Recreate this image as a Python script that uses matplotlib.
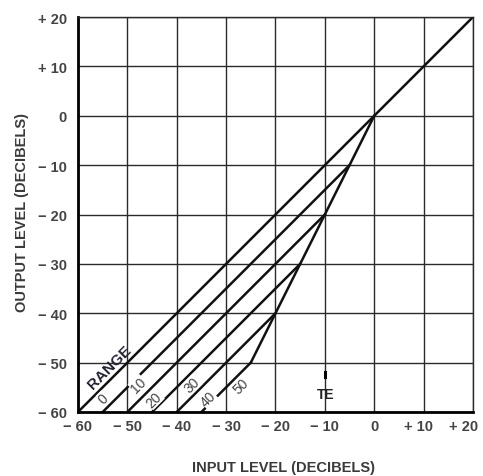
import matplotlib.pyplot as plt
from matplotlib.transforms import ScaledTranslation

# input/output levels in dB
unity_in = [-60, 20]
unity_out = [-60, 20]

# expansion range lines: start at the bottom edge, run at unity slope up to the knee
range_db = [10, 20, 30, 40, 50]
start_in = [-55, -50, -45, -40, -35]
start_out = [-60, -60, -60, -60, -60]
knee_in = [-5, -10, -15, -20, -25]
knee_out = [-10, -20, -30, -40, -50]

# threshold curve through the knees back to 0 dB
thresh_in = [0, -5, -10, -15, -20, -25]
thresh_out = [0, -10, -20, -30, -40, -50]

ticks = [-60, -50, -40, -30, -20, -10, 0, 10, 20]
tick_labels = ["\u2212 60", "\u2212 50", "\u2212 40", "\u2212 30", "\u2212 20",
               "\u2212 10", "0", "+ 10", "+ 20"]

# range labels (text, x, y)
range_labels = [("0", -54.8, -57.2), ("10", -47.8, -54.4), ("20", -44.6, -57.4),
                ("30", -36.9, -54.4), ("40", -33.6, -57.4), ("50", -27.0, -54.6)]

plt.rcParams['font.family'] = ['Liberation Sans', 'DejaVu Sans']

fig = plt.figure(figsize=(4.83, 4.77), dpi=100)
ax = fig.add_axes([78 / 483, 64 / 477, 395 / 483, 395 / 477])

ax.set_xlim(-60, 20)
ax.set_ylim(-60, 20)
ax.set_xticks(ticks)
ax.set_yticks(ticks)
ax.set_xticklabels(tick_labels)
ax.set_yticklabels(tick_labels)
ax.tick_params(length=0, labelsize=10.5, labelcolor="#444")
ax.tick_params(axis="x", pad=5)
ax.tick_params(axis="y", pad=8)
for lab in ax.get_xticklabels() + ax.get_yticklabels():
    lab.set_fontweight("bold")
# the right-hand x labels sit a little left of their grid lines
xl = ax.get_xticklabels()
for lab, dx in ((xl[-2], -5), (xl[-1], -9)):
    lab.set_transform(lab.get_transform() + ScaledTranslation(dx / 100, 0, fig.dpi_scale_trans))

ax.grid(True, color="#2a2a2a", linewidth=1.0)
ax.set_axisbelow(True)
for s in ax.spines.values():
    s.set_color("#2a2a2a")
    s.set_linewidth(1.0)
ax.spines["left"].set_linewidth(2.0)
ax.spines["bottom"].set_linewidth(2.0)
ax.spines["left"].set_color("black")
ax.spines["bottom"].set_color("black")

lc = "#111111"
ax.plot(unity_in, unity_out, color=lc, lw=1.8)
for i in range(len(range_db)):
    ax.plot([start_in[i], knee_in[i]], [start_out[i], knee_out[i]], color=lc, lw=1.8)
ax.plot(thresh_in, thresh_out, color=lc, lw=1.8)

ax.text(-53.6, -50.8, "RANGE", rotation=45, ha="center", va="center",
        fontsize=11, fontweight="bold", color="#223")
for txt, x, y in range_labels:
    ax.text(x, y, txt, rotation=45, ha="center", va="center", fontsize=10,
            color="#444", bbox=dict(facecolor="white", edgecolor="none", pad=0.2))

# TE marker
ax.plot([-10, -10], [-53.0, -51.8], color="black", lw=2.2)
ax.text(-9.8, -56.3, "TE", ha="center", va="center", fontsize=10,
        fontweight="bold", color="#222")

fig.text(283 / 483, 1 - 468 / 477, "INPUT LEVEL (DECIBELS)", ha="center",
         va="center", fontsize=10.5, fontweight="bold", color="#3a3a3a")
fig.text(22 / 483, 1 - 213 / 477, "OUTPUT LEVEL (DECIBELS)", ha="center",
         va="center", rotation=90, fontsize=10.5, fontweight="bold", color="#3a3a3a")

fig.savefig("out.png", dpi=100)
